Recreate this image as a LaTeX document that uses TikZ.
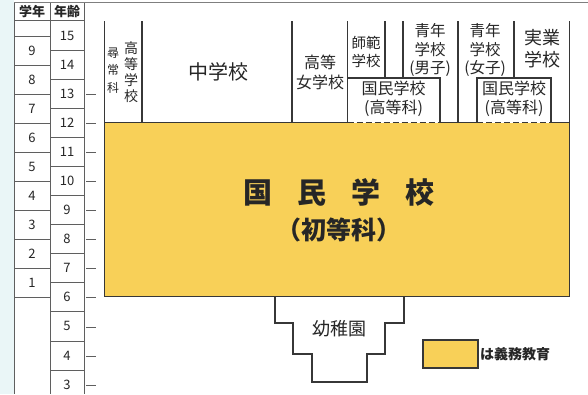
\documentclass[tikz,border=0pt]{standalone}
\usepackage{fontspec}
\setmainfont{Noto Sans CJK JP}
\definecolor{gimu}{RGB}{248,208,88}
\definecolor{lin}{RGB}{55,55,55}
\definecolor{tbl}{RGB}{95,95,95}
\definecolor{pale}{RGB}{234,246,247}
\tikzset{
  mainline/.style={draw=lin, line width=1.4pt},
  tblline/.style={draw=tbl, line width=0.9pt},
  lbl/.style={inner sep=0pt, align=center, text=black!85},
  fs/.style={font=\fontsize{#1}{#1}\selectfont},
}
\newcommand{\fsz}[2]{\fontsize{#1}{#2}\selectfont}
\begin{document}
\begin{tikzpicture}[x=1pt,y=-1pt]
\useasboundingbox (0,0) rectangle (588,394);
\fill[pale] (0,0) rectangle (14,394);
\fill[white] (14,0) rectangle (588,394);
\draw[tbl!80, line width=1.5pt] (14,2.5) -- (588,2.5);

% ---- left table ----
\draw[tblline] (14,2.5) -- (14,394);
\draw[tblline] (50,2.5) -- (50,394);
\draw[tblline] (84,2.5) -- (84,394);
\draw[tblline] (14,20) -- (84,20);
\foreach \k in {0,...,9} \draw[tblline] (14,{36+29.1*\k}) -- (50,{36+29.1*\k});
\foreach \k in {0,...,11} \draw[tblline] (50,{50+29.1*\k}) -- (84,{50+29.1*\k});
\foreach \k in {2,...,12} \draw[tblline] (86,{36+29.1*\k}) -- (96,{36+29.1*\k});
\node[lbl, font=\fsz{13}{13}\bfseries] (hg) at (32,12) {学年};
\node[lbl, font=\fsz{13}{13}\bfseries] (ha) at (67,12) {年齢};
\foreach \g [count=\k from 0] in {9,8,7,6,5,4,3,2,1}
  \node[lbl, font=\fsz{13}{13}] (g\g) at (32,{50.5+29.1*\k}) {\g};
\node[lbl, font=\fsz{13}{13}] (a15) at (67,35.5) {15};
\foreach \a [count=\k from 0] in {14,13,12,11,10,9,8,7,6,5,4,3}
  \node[lbl, font=\fsz{13}{13}] (a\a) at (67,{64.5+29.1*\k}) {\a};

% ---- yellow block ----
\fill[gimu] (104.5,122.5) rectangle (569.5,296.5);
\draw[mainline] (104.5,21) -- (104.5,296.5) -- (569.5,296.5) -- (569.5,21);
\draw[mainline] (104.5,122.5) -- (347.5,122.5);
\draw[mainline] (440,122.5) -- (477,122.5);
\draw[mainline] (551,122.5) -- (569.5,122.5);
\draw[lin, line width=1.4pt, dash pattern=on 6pt off 3pt] (347.5,122.5) -- (440,122.5);
\draw[lin, line width=1.4pt, dash pattern=on 6pt off 3pt] (477,122.5) -- (551,122.5);

% column lines
\draw[mainline] (142,21) -- (142,122.5);
\draw[mainline] (292,21) -- (292,122.5);
\draw[mainline] (347.5,21) -- (347.5,122.5);
\draw[mainline] (385,21) -- (385,78);
\draw[mainline] (403,21) -- (403,78);
\draw[mainline] (458,21) -- (458,122.5);
\draw[mainline] (514,21) -- (514,78);
% upper boxes
\draw[mainline] (347.5,122.5) -- (347.5,78) -- (440,78) -- (440,122.5);
\draw[mainline] (477,122.5) -- (477,78) -- (551,78) -- (551,122.5);

% texts
\node[lbl, font=\fsz{12}{17.5}] (jinjo) at (113,70.5) {尋\\常\\科};
\node[lbl, font=\fsz{14}{16}] (kotogakko) at (131,72.5) {高\\等\\学\\校};
\node[lbl, font=\fsz{20}{20}] (chugakko) at (218,72) {中学校};
\node[lbl, font=\fsz{16}{20}] (jogakko) at (320,72) {高等\\女学校};
\node[lbl, font=\fsz{14.5}{18}] (shihan) at (366,52) {師範\\学校};
\node[lbl, font=\fsz{15.5}{18.5}] (seinenm) at (430,50) {青年\\学校\\(男子)};
\node[lbl, font=\fsz{15.5}{18.5}] (seinenf) at (485,50) {青年\\学校\\(女子)};
\node[lbl, font=\fsz{18}{22}] (jitsugyo) at (542,49) {実業\\学校};
\node[lbl, font=\fsz{16}{19}] (koto1) at (393.5,98.5) {国民学校\\(高等科)};
\node[lbl, font=\fsz{16}{19}] (koto2) at (514,98.5) {国民学校\\(高等科)};

\node[lbl, font=\fsz{29}{29}\bfseries] (kokumin) at (339,192) {国\hspace{25pt}民\hspace{25pt}学\hspace{25pt}校};
\node[lbl, font=\fsz{25}{25}\bfseries] (shoto) at (339,230) {（初等科）};

% kindergarten
\draw[mainline] (275,296.5) -- (275,323) -- (293,323) -- (293,354) -- (312,354) -- (312,382)
  -- (367,382) -- (367,354) -- (385,354) -- (385,323) -- (404,323) -- (404,296.5);
\node[lbl, font=\fsz{18}{18}] (yochien) at (339,329) {幼稚園};

% legend
\draw[mainline, fill=gimu] (423,340) rectangle (478,368);
\node[lbl, anchor=west, font=\fsz{14}{14}\bfseries] (legend) at (480,354) {は義務教育};
\end{tikzpicture}
\end{document}
